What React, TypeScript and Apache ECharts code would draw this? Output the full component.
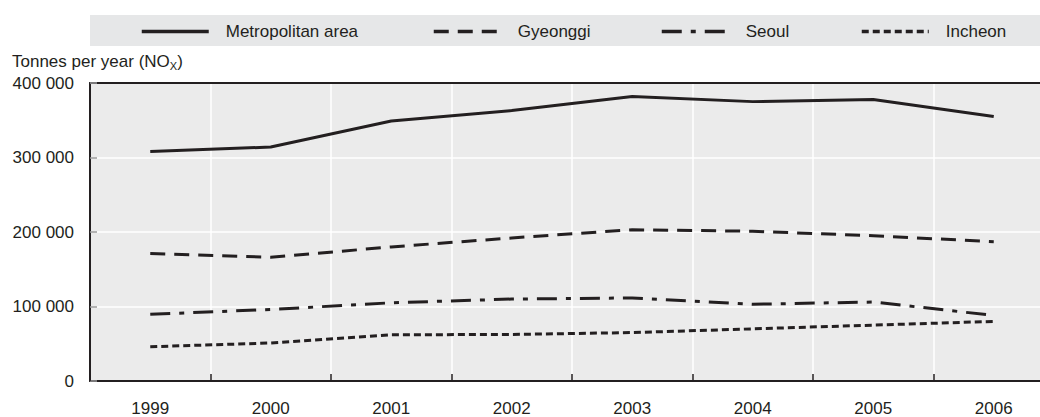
import React, { useEffect, useRef } from "react";
import * as echarts from "echarts";

const years = ["1999", "2000", "2001", "2002", "2003", "2004", "2005", "2006"];
const metropolitan = [308000, 314000, 349000, 363000, 382000, 375000, 378000, 355000];
const gyeonggi = [171000, 166000, 180000, 192000, 203000, 201000, 195000, 187000];
const seoul = [89500, 96000, 105000, 110000, 111500, 103000, 106000, 88000];
const incheon = [46000, 51000, 62000, 62500, 65000, 70000, 75000, 80000];
const yTicks = [0, 100000, 200000, 300000, 400000];

const INK = "#231f20";
const FONT = "'Liberation Sans', Arial, sans-serif";

const fmt = (v: number) => String(v).replace(/\B(?=(\d{3})+(?!\d))/g, " ");

export default function App() {
  const ref = useRef<HTMLDivElement>(null);
  useEffect(() => {
    document.body.style.margin = "0";
    document.body.style.overflow = "hidden";
    document.documentElement.style.overflow = "hidden";
    const chart = echarts.init(ref.current!, null, { renderer: "svg" });
    const seriesDefs = [
      { name: "Metropolitan area", data: metropolitan, type: "solid" as any },
      { name: "Gyeonggi", data: gyeonggi, type: [15, 9] as any },
      { name: "Seoul", data: seoul, type: [20, 9, 5, 9] as any },
      { name: "Incheon", data: incheon, type: [7, 4] as any },
    ];
    const legendLeft = [140, 432, 660, 860];
    chart.setOption({
      animation: false,
      textStyle: { fontFamily: FONT, color: INK },
      graphic: [
        {
          type: "rect",
          shape: { x: 90, y: 15, width: 970, height: 31 },
          style: { fill: "#e6e7e8" },
          z: -10,
        },
        {
          type: "text",
          left: 12,
          top: 53,
          style: {
            text: "Tonnes per year (NO{sub|X})",
            font: `17px ${FONT}`,
            fill: INK,
            rich: {
              sub: { fontSize: 11, fontFamily: FONT, fill: INK, padding: [9, 0, 0, 0] },
            },
          },
        },
      ],
      legend: seriesDefs.map((s, i) => ({
        data: [s.name],
        left: legendLeft[i],
        top: 23,
        itemWidth: 67,
        itemHeight: 16,
        padding: 0,
        selectedMode: false,
        itemStyle: { opacity: 0 },
        lineStyle: { color: INK, width: 3.5, opacity: 1 },
        textStyle: { fontSize: 17, fontFamily: FONT, color: INK, padding: [0, 0, 0, 12] },
      })),
      grid: {
        left: 90,
        top: 83,
        width: 964,
        bottom: 32,
        show: true,
        backgroundColor: "#ebebeb",
        borderWidth: 0,
      },
      xAxis: [
        {
          type: "category",
          data: years,
          boundaryGap: true,
          axisLine: { lineStyle: { color: INK, width: 2 } },
          axisTick: { show: true, inside: true, length: 7, lineStyle: { color: INK, width: 1.5 } },
          axisLabel: { fontSize: 17, fontFamily: FONT, color: INK, margin: 19 },
          splitLine: { show: true, lineStyle: { color: "#ffffff", width: 1.5 } },
        },
        {
          type: "category",
          data: years,
          position: "top",
          axisLine: { lineStyle: { color: INK, width: 2 } },
          axisTick: { show: false },
          axisLabel: { show: false },
          splitLine: { show: false },
        },
      ],
      yAxis: {
        type: "value",
        min: yTicks[0],
        max: yTicks[yTicks.length - 1],
        interval: 100000,
        axisLine: { show: true, lineStyle: { color: INK, width: 2 } },
        axisTick: { show: true, inside: true, length: 7, lineStyle: { color: "#9a9a9a", width: 1.5 } },
        axisLabel: {
          fontSize: 17,
          fontFamily: FONT,
          color: INK,
          margin: 16,
          formatter: (v: number) => fmt(v),
        },
        splitLine: { show: true, lineStyle: { color: "#ffffff", width: 1.5 } },
      },
      series: seriesDefs.map((s) => ({
        name: s.name,
        type: "line",
        data: s.data,
        symbol: "none",
        showSymbol: false,
        lineStyle: { color: INK, width: 3, type: s.type },
        itemStyle: { color: INK },
      })),
    });
    return () => chart.dispose();
  }, []);
  return <div ref={ref} style={{ width: 1054, height: 417 }} />;
}
